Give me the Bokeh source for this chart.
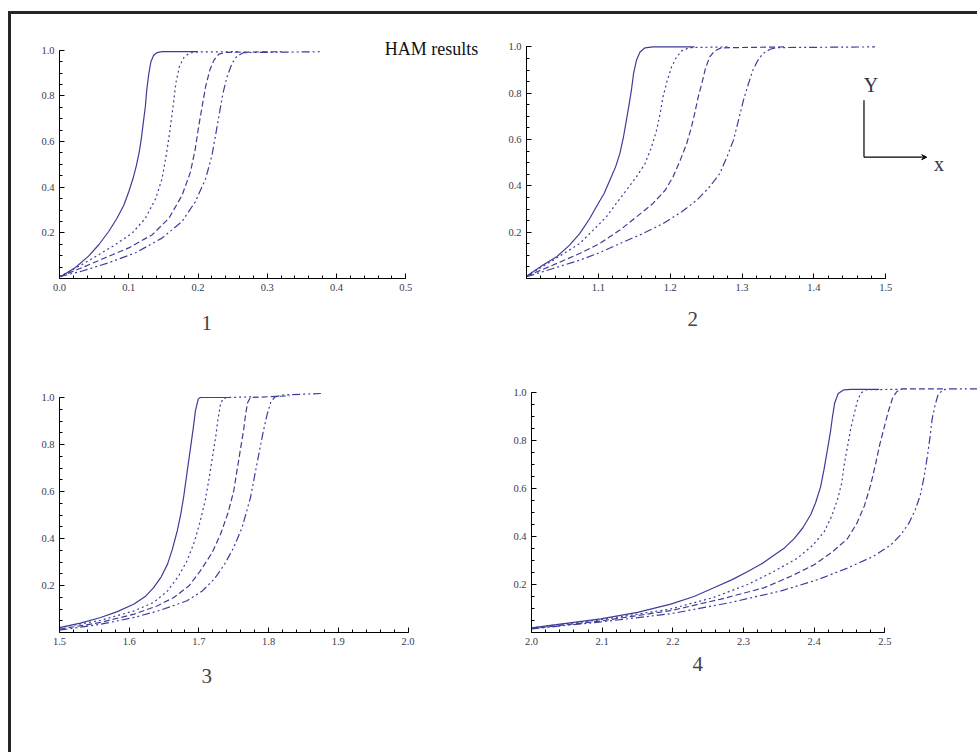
from bokeh.plotting import figure
from bokeh.models import FixedTicker, PrintfTickFormatter, Label, Arrow, VeeHead, Title
from bokeh.layouts import column, row
from bokeh.embed import file_html
from bokeh.resources import INLINE

# ---------------- data ----------------
# Panel 1
p1_solid_x = [0.0, 0.004, 0.023, 0.042, 0.057, 0.071, 0.083, 0.093, 0.1, 0.106, 0.111, 0.115, 0.118, 0.121,
              0.124, 0.126, 0.129, 0.132, 0.136, 0.141, 0.148, 0.20]
p1_solid_y = [0.008, 0.012, 0.048, 0.098, 0.149, 0.206, 0.264, 0.322, 0.38, 0.437, 0.495, 0.553, 0.61, 0.683,
              0.755, 0.827, 0.899, 0.95, 0.978, 0.99, 0.994, 0.994]
p1_dot_x = [0.0, 0.033, 0.057, 0.081, 0.105, 0.124, 0.139, 0.148, 0.154, 0.159, 0.164, 0.168, 0.173, 0.18,
            0.187, 0.196, 0.26]
p1_dot_y = [0.008, 0.062, 0.105, 0.149, 0.199, 0.264, 0.351, 0.437, 0.538, 0.639, 0.755, 0.856, 0.928, 0.971,
            0.986, 0.993, 0.994]
p1_dash_x = [0.0, 0.033, 0.066, 0.1, 0.134, 0.158, 0.177, 0.189, 0.196, 0.201, 0.206, 0.211, 0.217, 0.223,
             0.23, 0.24, 0.32]
p1_dash_y = [0.008, 0.048, 0.091, 0.134, 0.192, 0.264, 0.365, 0.466, 0.567, 0.668, 0.755, 0.841, 0.913, 0.957,
             0.983, 0.991, 0.994]
p1_dd_x = [0.0, 0.033, 0.071, 0.11, 0.148, 0.177, 0.196, 0.211, 0.22, 0.226, 0.231, 0.236, 0.242, 0.249,
           0.256, 0.266, 0.38]
p1_dd_y = [0.008, 0.033, 0.069, 0.113, 0.177, 0.25, 0.336, 0.437, 0.538, 0.639, 0.726, 0.812, 0.885, 0.942,
           0.974, 0.99, 0.994]

# Panel 2
p2_solid_x = [1.0, 1.023, 1.042, 1.06, 1.074, 1.088, 1.097, 1.108, 1.116, 1.124, 1.13, 1.135, 1.139, 1.143,
              1.146, 1.149, 1.153, 1.158, 1.165, 1.176, 1.234]
p2_solid_y = [0.01, 0.058, 0.094, 0.144, 0.194, 0.259, 0.309, 0.367, 0.424, 0.482, 0.54, 0.612, 0.683, 0.755,
              0.813, 0.885, 0.942, 0.978, 0.996, 1.0, 1.0]
p2_dot_x = [1.0, 1.037, 1.074, 1.093, 1.111, 1.125, 1.139, 1.153, 1.165, 1.174, 1.181, 1.186, 1.19, 1.196,
            1.202, 1.209, 1.216, 1.227, 1.28]
p2_dot_y = [0.01, 0.079, 0.151, 0.209, 0.266, 0.324, 0.381, 0.439, 0.496, 0.568, 0.64, 0.712, 0.784, 0.856,
            0.914, 0.957, 0.983, 0.997, 1.0]
p2_dash_x = [1.0, 1.037, 1.074, 1.102, 1.13, 1.153, 1.176, 1.193, 1.204, 1.214, 1.223, 1.229, 1.234, 1.239,
             1.244, 1.249, 1.255, 1.262, 1.271, 1.36]
p2_dash_y = [0.01, 0.058, 0.108, 0.151, 0.209, 0.266, 0.324, 0.381, 0.439, 0.511, 0.583, 0.647, 0.712, 0.784,
             0.842, 0.906, 0.957, 0.983, 0.996, 1.0]
p2_dd_x = [1.0, 1.037, 1.074, 1.102, 1.13, 1.162, 1.19, 1.216, 1.237, 1.255, 1.269, 1.279, 1.288, 1.295,
           1.302, 1.309, 1.315, 1.322, 1.329, 1.339, 1.348, 1.485]
p2_dd_y = [0.008, 0.043, 0.079, 0.112, 0.151, 0.194, 0.237, 0.288, 0.338, 0.396, 0.453, 0.525, 0.597, 0.683,
           0.77, 0.842, 0.899, 0.942, 0.971, 0.99, 0.997, 1.0]

# Panel 3
p3_solid_x = [1.5, 1.53, 1.559, 1.583, 1.607, 1.623, 1.635, 1.646, 1.655, 1.662, 1.669, 1.674, 1.678, 1.683,
              1.688, 1.692, 1.695, 1.699, 1.702, 1.745]
p3_solid_y = [0.021, 0.04, 0.064, 0.089, 0.121, 0.153, 0.191, 0.237, 0.291, 0.355, 0.433, 0.504, 0.574, 0.681,
              0.787, 0.872, 0.943, 0.993, 1.0, 1.0]
p3_dot_x = [1.5, 1.559, 1.607, 1.635, 1.655, 1.671, 1.683, 1.694, 1.702, 1.709, 1.714, 1.719, 1.724, 1.727,
            1.731, 1.735, 1.742, 1.78]
p3_dot_y = [0.02, 0.052, 0.092, 0.128, 0.177, 0.241, 0.305, 0.39, 0.475, 0.56, 0.645, 0.738, 0.83, 0.901,
            0.972, 0.997, 1.0, 1.003]
p3_dash_x = [1.5, 1.559, 1.607, 1.64, 1.664, 1.686, 1.702, 1.719, 1.731, 1.742, 1.75, 1.755, 1.76, 1.764,
             1.767, 1.77, 1.774, 1.83]
p3_dash_y = [0.014, 0.043, 0.078, 0.113, 0.149, 0.199, 0.262, 0.34, 0.418, 0.511, 0.603, 0.695, 0.787, 0.858,
             0.929, 0.979, 1.0, 1.007]
p3_dd_x = [1.5, 1.559, 1.607, 1.645, 1.683, 1.705, 1.722, 1.737, 1.75, 1.762, 1.774, 1.78, 1.786, 1.792,
           1.798, 1.803, 1.809, 1.822, 1.875]
p3_dd_y = [0.01, 0.035, 0.064, 0.095, 0.135, 0.177, 0.227, 0.291, 0.362, 0.447, 0.574, 0.667, 0.759, 0.851,
           0.929, 0.979, 1.003, 1.011, 1.017]

# Panel 4
p4_solid_x = [2.0, 2.046, 2.098, 2.15, 2.197, 2.23, 2.258, 2.284, 2.306, 2.327, 2.343, 2.358, 2.372, 2.384,
              2.395, 2.402, 2.409, 2.414, 2.419, 2.423, 2.426, 2.429, 2.434, 2.442, 2.452, 2.492]
p4_solid_y = [0.019, 0.037, 0.057, 0.084, 0.118, 0.15, 0.186, 0.22, 0.254, 0.288, 0.322, 0.352, 0.392, 0.436,
              0.49, 0.54, 0.605, 0.68, 0.765, 0.835, 0.9, 0.955, 0.995, 1.01, 1.012, 1.012]
p4_dot_x = [2.0, 2.098, 2.197, 2.258, 2.306, 2.343, 2.376, 2.398, 2.414, 2.425, 2.433, 2.439, 2.442, 2.447,
            2.452, 2.457, 2.461, 2.466, 2.473, 2.53]
p4_dot_y = [0.019, 0.053, 0.098, 0.146, 0.2, 0.254, 0.309, 0.363, 0.418, 0.486, 0.554, 0.622, 0.69, 0.771,
            0.853, 0.914, 0.962, 0.996, 1.01, 1.013]
p4_dash_x = [2.0, 2.098, 2.197, 2.268, 2.329, 2.367, 2.4, 2.426, 2.447, 2.46, 2.471, 2.48, 2.487, 2.493,
             2.499, 2.505, 2.511, 2.517, 2.525, 2.585]
p4_dash_y = [0.016, 0.048, 0.091, 0.139, 0.186, 0.234, 0.282, 0.336, 0.39, 0.452, 0.527, 0.615, 0.703, 0.785,
             0.853, 0.921, 0.976, 1.003, 1.014, 1.014]
p4_dd_x = [2.0, 2.098, 2.197, 2.282, 2.353, 2.405, 2.447, 2.483, 2.508, 2.522, 2.534, 2.543, 2.55, 2.555,
           2.56, 2.564, 2.567, 2.571, 2.575, 2.582, 2.591, 2.66]
p4_dd_y = [0.015, 0.044, 0.078, 0.125, 0.173, 0.22, 0.268, 0.316, 0.363, 0.405, 0.455, 0.51, 0.57, 0.64,
           0.73, 0.815, 0.89, 0.945, 0.987, 1.01, 1.014, 1.014]

y_ticks = [0.2, 0.4, 0.6, 0.8, 1.0]
p1_xticks = [0.0, 0.1, 0.2, 0.3, 0.4, 0.5]
p2_xticks = [1.1, 1.2, 1.3, 1.4, 1.5]
p3_xticks = [1.5, 1.6, 1.7, 1.8, 1.9, 2.0]
p4_xticks = [2.0, 2.1, 2.2, 2.3, 2.4, 2.5]
panel_labels = ["1", "2", "3", "4"]
title_text = "HAM results"

# ---------------- styling ----------------
LINE = "#3d3d99"
SERIF = "Liberation Serif"
DASHES = ["solid", "2 3", "6 3", "8 3 2 3 2 3"]

W1, W2 = 485, 481
H1, H2 = 355, 383


def make_panel(w, h, borders, x0, ppu_x, ppu_y, xticks, xbounds, series):
    left, right, top, bottom = borders
    fw = w - left - right
    fh = h - top - bottom
    p = figure(width=w, height=h, output_backend="svg", toolbar_location=None,
               x_range=(x0, x0 + fw / ppu_x), y_range=(0, fh / ppu_y),
               min_border_left=left, min_border_right=right,
               min_border_top=top, min_border_bottom=bottom)
    p.outline_line_color = None
    p.grid.visible = False
    p.background_fill_color = "white"
    p.border_fill_color = "white"
    for (xs, ys), dash in zip(series, DASHES):
        p.line(xs, ys, line_color=LINE, line_width=1.2, line_dash=dash)
    minor_x = []
    a, b = xbounds
    n = int(round((b - a) / 0.02))
    for i in range(n + 1):
        minor_x.append(round(a + i * 0.02, 3))
    p.xaxis.ticker = FixedTicker(ticks=xticks, minor_ticks=minor_x)
    p.yaxis.ticker = FixedTicker(ticks=y_ticks, minor_ticks=[round(0.05 * i, 2) for i in range(1, 21)])
    p.xaxis.bounds = xbounds
    p.yaxis.bounds = (0, 1.0)
    for ax in (p.xaxis, p.yaxis):
        ax.formatter = PrintfTickFormatter(format="%.1f")
        ax.axis_line_color = "black"
        ax.axis_line_width = 1
        ax.major_tick_line_color = "black"
        ax.minor_tick_line_color = "black"
        ax.major_tick_in = 5
        ax.major_tick_out = 0
        ax.minor_tick_in = 3
        ax.minor_tick_out = 0
        ax.major_label_text_font = SERIF
        ax.major_label_text_font_size = "10.5px"
        ax.major_label_text_color = "#3a3a4a"
        ax.major_label_standoff = 5
    return p


p1 = make_panel(W1, H1, (48, 0, 20, 88), 0.0, 692.6, 231.0, p1_xticks, (0.0, 0.5),
                [(p1_solid_x, p1_solid_y), (p1_dot_x, p1_dot_y), (p1_dash_x, p1_dash_y), (p1_dd_x, p1_dd_y)])
p2 = make_panel(W2, H1, (30, 0, 20, 91), 1.0, 718.5, 231.6, p2_xticks, (1.0, 1.5),
                [(p2_solid_x, p2_solid_y), (p2_dot_x, p2_dot_y), (p2_dash_x, p2_dash_y), (p2_dd_x, p2_dd_y)])
p3 = make_panel(W1, H2, (48, 0, 10, 120), 1.5, 697.0, 235.0, p3_xticks, (1.5, 2.0),
                [(p3_solid_x, p3_solid_y), (p3_dot_x, p3_dot_y), (p3_dash_x, p3_dash_y), (p3_dd_x, p3_dd_y)])
p4 = make_panel(W2, H2, (35, 0, 5, 120), 2.0, 706.7, 245.0, p4_xticks, (2.0, 2.5),
                [(p4_solid_x, p4_solid_y), (p4_dot_x, p4_dot_y), (p4_dash_x, p4_dash_y), (p4_dd_x, p4_dd_y)])

# panel numbers, placed under each x axis
for p, lab, off, stand in zip([p1, p2, p3, p4], panel_labels, [142, 161, 142, 161], [44, 36, 42, 18]):
    p.add_layout(Title(text=lab, align="left", offset=off, standoff=stand, vertical_align="top",
                       text_font=SERIF, text_font_size="21px", text_font_style="normal",
                       text_color="#444444"), "below")

# title
p1.add_layout(Label(x=0.537, y=1.004, text=title_text, text_font=SERIF, text_font_size="18px",
                    text_color="#111111", text_align="center", text_baseline="middle"))

# Y / x orientation sketch
p2.add_layout(Arrow(x_start=1.4697, y_start=0.77, x_end=1.4697, y_end=0.5237,
                    line_color="black", line_width=1.2, end=None))
p2.add_layout(Arrow(x_start=1.4697, y_start=0.5237, x_end=1.557, y_end=0.5237,
                    line_color="black", line_width=1.2,
                    end=VeeHead(size=5, line_color="black", fill_color="black", line_width=1)))
p2.add_layout(Label(x=1.4795, y=0.834, text="Y", text_font=SERIF, text_font_size="20px",
                    text_color="#333344", text_align="center", text_baseline="middle"))
p2.add_layout(Label(x=1.574, y=0.4935, text="x", text_font=SERIF, text_font_size="20px",
                    text_color="#333344", text_align="center", text_baseline="middle"))

layout = column(row(p1, p2), row(p3, p4),
                styles={"border-left": "3px solid #262626", "border-top": "3px solid #262626",
                        "margin-left": "8px", "margin-top": "11px"})

open("out.html", "w").write(file_html(layout, INLINE))
